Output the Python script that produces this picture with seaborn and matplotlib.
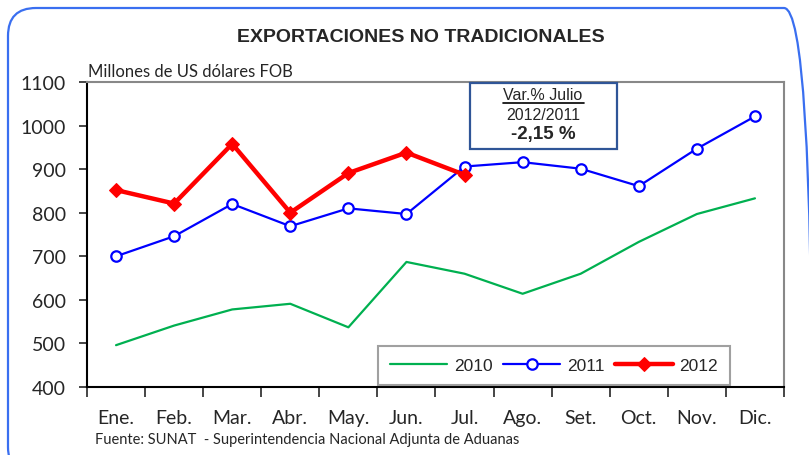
import pandas as pd
import seaborn as sns
import matplotlib.pyplot as plt
from matplotlib.patches import FancyBboxPatch
from matplotlib.transforms import Affine2D

meses = ['Ene.', 'Feb.', 'Mar.', 'Abr.', 'May.', 'Jun.',
         'Jul.', 'Ago.', 'Set.', 'Oct.', 'Nov.', 'Dic.']
v2010 = [496, 541, 578, 591, 537, 687, 660, 614, 660, 733, 797, 833]
v2011 = [700, 746, 820, 769, 810, 797, 906, 916, 901, 861, 947, 1021]
v2012 = [852, 821, 958, 800, 891, 938, 887]
y_ticks = [400, 500, 600, 700, 800, 900, 1000, 1100]

df10 = pd.DataFrame({'Mes': meses, 'Valor': v2010})
df11 = pd.DataFrame({'Mes': meses, 'Valor': v2011})
df12 = pd.DataFrame({'Mes': meses[:len(v2012)], 'Valor': v2012})

sns.set_style('white')
narrow = ['Lato', 'DejaVu Sans']
arial = ['Liberation Sans', 'DejaVu Sans']

fig = plt.figure(figsize=(8.09, 4.56), dpi=100)
# coordenadas en pixeles de la imagen (origen abajo a la izquierda)
px = Affine2D().scale(1 / 809, 1 / 456) + fig.transFigure

ax = fig.add_axes([87 / 809, 1 - 388 / 456, (784 - 87) / 809, (388 - 83) / 456])

sns.lineplot(data=df10, x='Mes', y='Valor', ax=ax, color='#00B050', lw=1.6,
             label='2010', sort=False)
sns.lineplot(data=df11, x='Mes', y='Valor', ax=ax, color='#0000FF', lw=1.6,
             marker='o', markersize=7.5, markerfacecolor='white',
             markeredgecolor='#0000FF', markeredgewidth=1.6, label='2011', sort=False)
sns.lineplot(data=df12, x='Mes', y='Valor', ax=ax, color='#FF0000', lw=3.2,
             marker='D', markersize=7, markeredgecolor='#FF0000', label='2012', sort=False)

ax.set_xlim(-0.5, 11.5)
ax.set_ylim(400, 1100)
ax.set_yticks(y_ticks)
ax.set_xticks(range(12))
ax.set_xticks([i + 0.5 for i in range(-1, 12)], minor=True)
ax.tick_params(axis='x', which='major', length=0, pad=16)
ax.tick_params(axis='x', which='minor', length=7, width=1.2, direction='out', bottom=True)
ax.tick_params(axis='y', length=6, width=1.2, direction='out', left=True, pad=9)
for lab in ax.get_xticklabels() + ax.get_yticklabels():
    lab.set_family(narrow)
    lab.set_fontsize(14)
ax.set_xlabel('')
ax.set_ylabel('')

for s in ['left', 'bottom']:
    ax.spines[s].set_color('black')
    ax.spines[s].set_linewidth(1.5)
for s in ['top', 'right']:
    ax.spines[s].set_color('#888888')
    ax.spines[s].set_linewidth(1.5)

leg = ax.legend(loc='lower right', bbox_to_anchor=(0.923, 0.006), ncol=3,
                frameon=True, fancybox=False, handlelength=3.3, columnspacing=0.6,
                handletextpad=0.4, borderpad=0.7, borderaxespad=0,
                prop={'family': arial, 'size': 12.5})
leg.get_frame().set_edgecolor('#888888')
leg.get_frame().set_linewidth(1.5)

fig.text(88 / 809, 1 - 72 / 456, 'Millones de US dólares FOB', family=narrow,
         fontsize=12, va='center', ha='left')
fig.text(421 / 809, 1 - 37 / 456, 'EXPORTACIONES NO TRADICIONALES', family=arial,
         fontsize=14, fontweight='bold', ha='center', va='center')
fig.text(95 / 809, 1 - 440 / 456, 'Fuente: SUNAT  - Superintendencia Nacional Adjunta de Aduanas',
         family=narrow, fontsize=10.5, ha='left', va='center')

# recuadro de variacion
box = FancyBboxPatch((470, 456 - 150), 147, 66, boxstyle='square,pad=0',
                     transform=px, facecolor='white',
                     edgecolor='#2F5597', linewidth=1.6, zorder=5)
fig.add_artist(box)
fig.text(543 / 809, 1 - 96 / 456, 'Var.% Julio', family=arial, fontsize=11.5,
         ha='center', va='center', zorder=6)
fig.add_artist(plt.Line2D([503 / 809, 584 / 809], [1 - 104 / 456, 1 - 104 / 456],
                          color='black', lw=1.2, zorder=6))
fig.text(543 / 809, 1 - 116 / 456, '2012/2011', family=arial, fontsize=11.5,
         ha='center', va='center', zorder=6)
fig.text(543 / 809, 1 - 135 / 456, '-2,15 %', family=arial, fontsize=13.5,
         fontweight='bold', ha='center', va='center', zorder=6)

# marco redondeado exterior
frame = FancyBboxPatch((8, -20), 804, 467, boxstyle='round,pad=0,rounding_size=28',
                       transform=px, facecolor='none',
                       edgecolor='#3A6FF0', linewidth=1.6)
fig.add_artist(frame)

fig.savefig('out.png', dpi=100)
